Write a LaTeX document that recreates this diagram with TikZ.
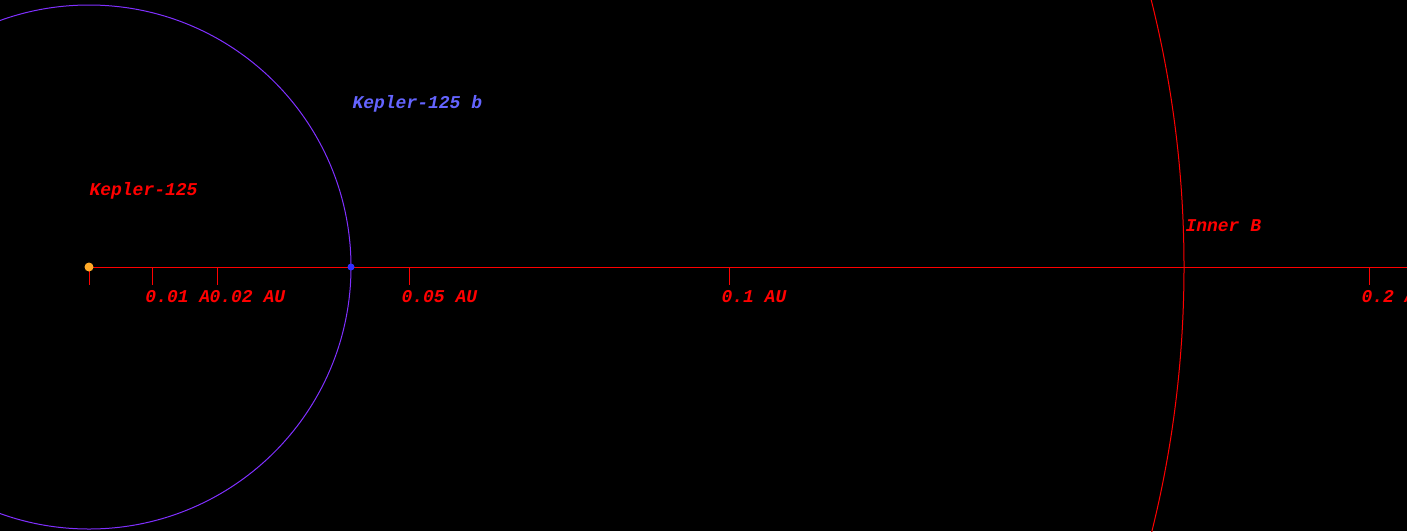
\documentclass[tikz,border=0pt]{standalone}
\usepackage{fontspec}
\setmonofont{Liberation Mono}
\usetikzlibrary{calc}

\definecolor{orbitviolet}{RGB}{128,48,255}
\definecolor{planetblue}{RGB}{48,48,255}
\definecolor{labelblue}{RGB}{100,100,255}
\definecolor{starorange}{RGB}{255,170,40}
\tikzset{lbl/.style={font=\ttfamily\bfseries\itshape\fontsize{9}{9}\selectfont,anchor=base west,inner sep=0pt}}

\begin{document}
\begin{tikzpicture}[x=0.5pt,y=-0.5pt,line width=0.5pt]

\pgfmathsetmacro{\px}{6400}
\def\sx{89}\def\sy{267}
\coordinate (centre) at (\sx,\sy);
\coordinate (axisend) at (1407,\sy);

\fill[black] (0,0) rectangle (1407,531);
\clip (0,0) rectangle (1407,531);

\draw[orbitviolet] (centre) circle ({262*0.5pt});
\draw[red] (centre) circle ({1095*0.5pt});
\draw[red] (centre) -- (axisend);
\draw[red] (centre) -- ++(0,18);
\foreach \d in {0.01,0.02,0.05,0.1,0.2}{
  \draw[red] ($(centre)+(\d*\px,0)$) -- ++(0,18);
  \node[lbl,red,fill=black] (tick\d) at ($(centre)+(\d*\px-8,35)$) {\d\ AU};
}

\node[circle,fill=starorange,inner sep=0pt,minimum size=4.5pt] (star) at (centre) {};
\node[circle,fill=planetblue,inner sep=0pt,minimum size=3.5pt] (planet) at (\sx+262,\sy) {};

\node[lbl,red] (starname) at (89,195) {Kepler-125};
\node[lbl,labelblue] (planetname) at (352,108) {Kepler-125 b};
\node[lbl,red] (innerb) at (1185,231) {Inner B};

\end{tikzpicture}
\end{document}
